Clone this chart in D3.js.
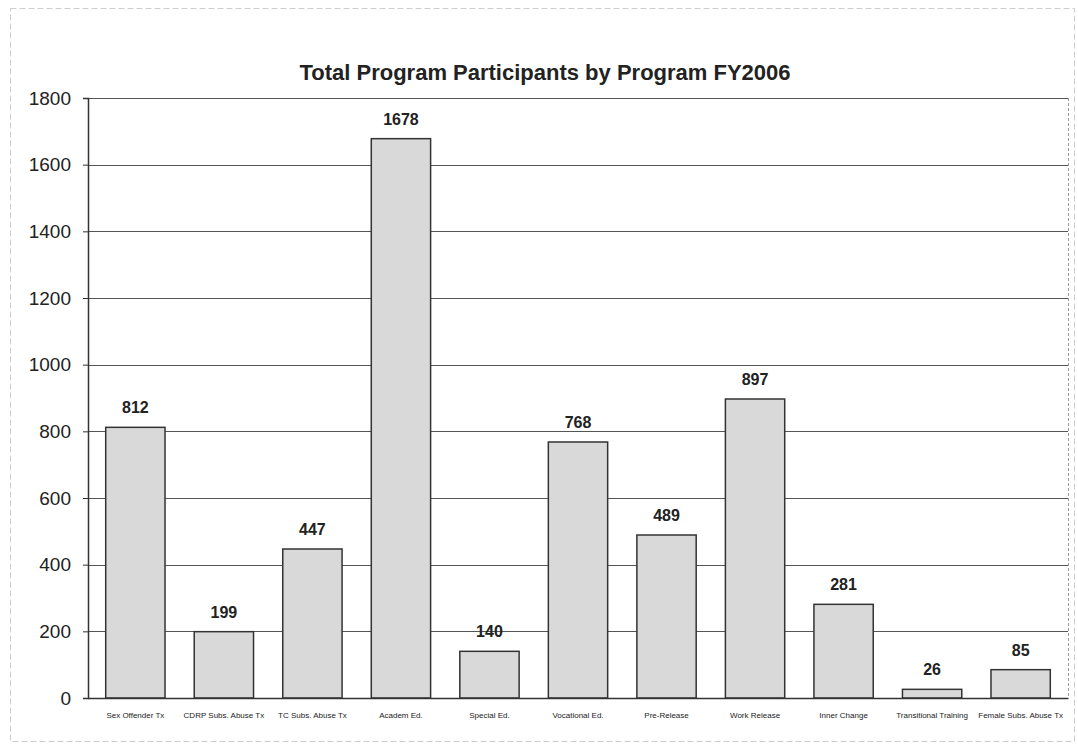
<!DOCTYPE html>
<html>
<head>
<meta charset="utf-8">
<script src="https://cdn.jsdelivr.net/npm/d3@7"></script>
<style>
  html, body { margin: 0; padding: 0; background: #fff; }
  svg { display: block; }
  text { font-family: "Liberation Sans", Arial, sans-serif; fill: #222; }
</style>
</head>
<body>
<svg id="chart" width="1078" height="744"></svg>
<script>
// Program names and participant counts, FY2006
const programs = [
  "Sex Offender Tx", "CDRP Subs. Abuse Tx", "TC Subs. Abuse Tx", "Academ Ed.",
  "Special Ed.", "Vocational Ed.", "Pre-Release", "Work Release",
  "Inner Change", "Transitional Training", "Female Subs. Abuse Tx"
];
const participants = [812, 199, 447, 1678, 140, 768, 489, 897, 281, 26, 85];
const yTicks = [0, 200, 400, 600, 800, 1000, 1200, 1400, 1600, 1800];
const chartTitle = "Total Program Participants by Program FY2006";

const svg = d3.select("#chart");
const W = 1078, H = 744;
const m = { left: 88, right: 10, top: 98, bottom: 46 };
const plotW = W - m.left - m.right;
const plotH = H - m.top - m.bottom;

// outer chart frame
svg.append("rect")
  .attr("x", 10.5).attr("y", 8.5).attr("width", 1064).attr("height", 733)
  .attr("fill", "none").attr("stroke", "#ccc").attr("stroke-width", 1)
  .attr("stroke-dasharray", "6,3");

const x = d3.scaleBand().domain(programs).range([0, plotW]).paddingInner(0.33).paddingOuter(0.2);
const y = d3.scaleLinear().domain([0, 1800]).range([plotH, 0]);

const g = svg.append("g").attr("transform", `translate(${m.left},${m.top})`);

// horizontal gridlines
g.append("g").selectAll("line").data(yTicks.filter(t => t > 0)).join("line")
  .attr("x1", 0).attr("x2", plotW)
  .attr("y1", d => Math.round(y(d)) + 0.5).attr("y2", d => Math.round(y(d)) + 0.5)
  .attr("stroke", "#555").attr("stroke-width", 1);

// right edge of plot area
g.append("line").attr("x1", plotW + 0.5).attr("x2", plotW + 0.5).attr("y1", 0).attr("y2", plotH)
  .attr("stroke", "#999").attr("stroke-dasharray", "3,2");

// bars
g.append("g").selectAll("rect").data(participants).join("rect")
  .attr("x", (d, i) => x(programs[i]))
  .attr("y", d => y(d))
  .attr("width", x.bandwidth())
  .attr("height", d => plotH - y(d))
  .attr("fill", "#d9d9d9")
  .attr("stroke", "#333").attr("stroke-width", 1.5);

// value labels
g.append("g").selectAll("text").data(participants).join("text")
  .attr("x", (d, i) => x(programs[i]) + x.bandwidth() / 2)
  .attr("y", d => y(d) - 14)
  .attr("text-anchor", "middle")
  .attr("font-size", 16).attr("font-weight", "bold")
  .text(d => d);

// y axis
const yAxis = g.append("g").call(
  d3.axisLeft(y).tickValues(yTicks).tickSize(5).tickPadding(12).tickFormat(d3.format("d"))
);
yAxis.select(".domain").attr("stroke", "#333").attr("stroke-width", 1.5);
yAxis.selectAll(".tick line").attr("stroke", "#333");
yAxis.selectAll(".tick text").attr("font-size", 19).attr("fill", "#222")
  .attr("font-family", "\"Liberation Sans\", Arial, sans-serif");

// x axis
const xAxis = g.append("g").attr("transform", `translate(0,${plotH})`)
  .call(d3.axisBottom(x).tickSize(0).tickPadding(14));
xAxis.select(".domain").attr("stroke", "#333").attr("stroke-width", 1.5);
xAxis.selectAll(".tick text").attr("font-size", 8).attr("fill", "#333")
  .attr("font-family", "\"Liberation Sans\", Arial, sans-serif");

// title
svg.append("text")
  .attr("x", 545).attr("y", 80)
  .attr("text-anchor", "middle")
  .attr("font-size", 22).attr("font-weight", "bold").attr("fill", "#222")
  .text(chartTitle);
</script>
</body>
</html>
